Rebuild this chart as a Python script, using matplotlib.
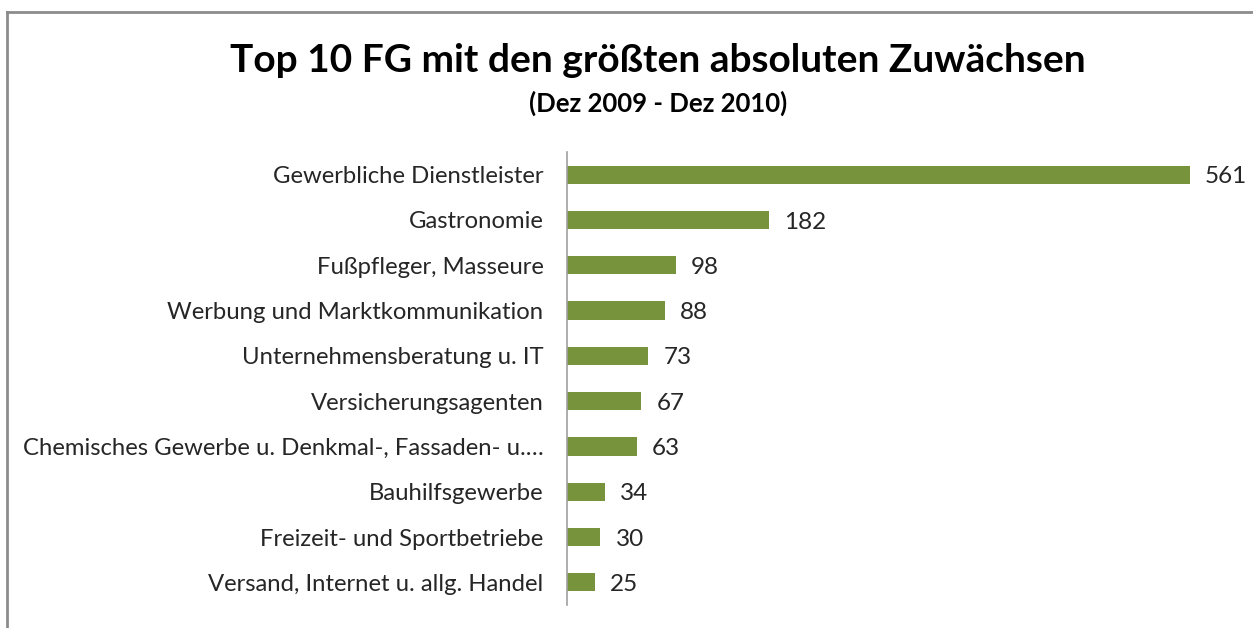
import matplotlib
matplotlib.use("Agg")
import matplotlib.pyplot as plt
from matplotlib.lines import Line2D

categories = [
    "Gewerbliche Dienstleister",
    "Gastronomie",
    "Fußpfleger, Masseure",
    "Werbung und Marktkommunikation",
    "Unternehmensberatung u. IT",
    "Versicherungsagenten",
    "Chemisches Gewerbe u. Denkmal-, Fassaden- u.…",
    "Bauhilfsgewerbe",
    "Freizeit- und Sportbetriebe",
    "Versand, Internet u. allg. Handel",
]
values = [561, 182, 98, 88, 73, 67, 63, 34, 30, 25]
title = "Top 10 FG mit den größten absoluten Zuwächsen"
subtitle = "(Dez 2009 - Dez 2010)"

plt.rcParams['font.family'] = ['Lato', 'DejaVu Sans']

W, H = 1253, 628
fig = plt.figure(figsize=(W/100, H/100), dpi=100)
ax = fig.add_axes([567/W, 1-605/H, 666/W, (605-152)/H])

y = list(range(len(categories)))
ax.barh(y, values, height=0.4, color="#77933C")
ax.set_ylim(len(categories)-0.5, -0.5)
ax.set_xlim(0, 600)
ax.set_yticks(y)
ax.set_yticklabels(categories, fontsize=17.2, color="#262626")
ax.tick_params(axis='y', length=0, pad=17)
ax.set_xticks([])
for s in ["top", "right", "bottom"]:
    ax.spines[s].set_visible(False)
ax.spines["left"].set_color("#A0A0A0")
ax.spines["left"].set_linewidth(1.2)

for yi, v in zip(y, values):
    ax.annotate(str(v), (v, yi), xytext=(11, -1.5), textcoords="offset points",
                va="center", ha="left", fontsize=17.5, color="#262626")

fig.text(658/W, 1-60/H, title, ha="center", va="center", fontsize=28, fontweight="bold")
fig.text(658/W, 1-103/H, subtitle, ha="center", va="center", fontsize=18.5, fontweight="bold")

# chart border
bc = "#8C8C8C"
fig.add_artist(Line2D([7/W, 7/W], [0, 1-12/H], transform=fig.transFigure, color=bc, lw=2))
fig.add_artist(Line2D([7/W, 1], [1-12/H, 1-12/H], transform=fig.transFigure, color=bc, lw=2))

fig.savefig("out.png", dpi=100)
